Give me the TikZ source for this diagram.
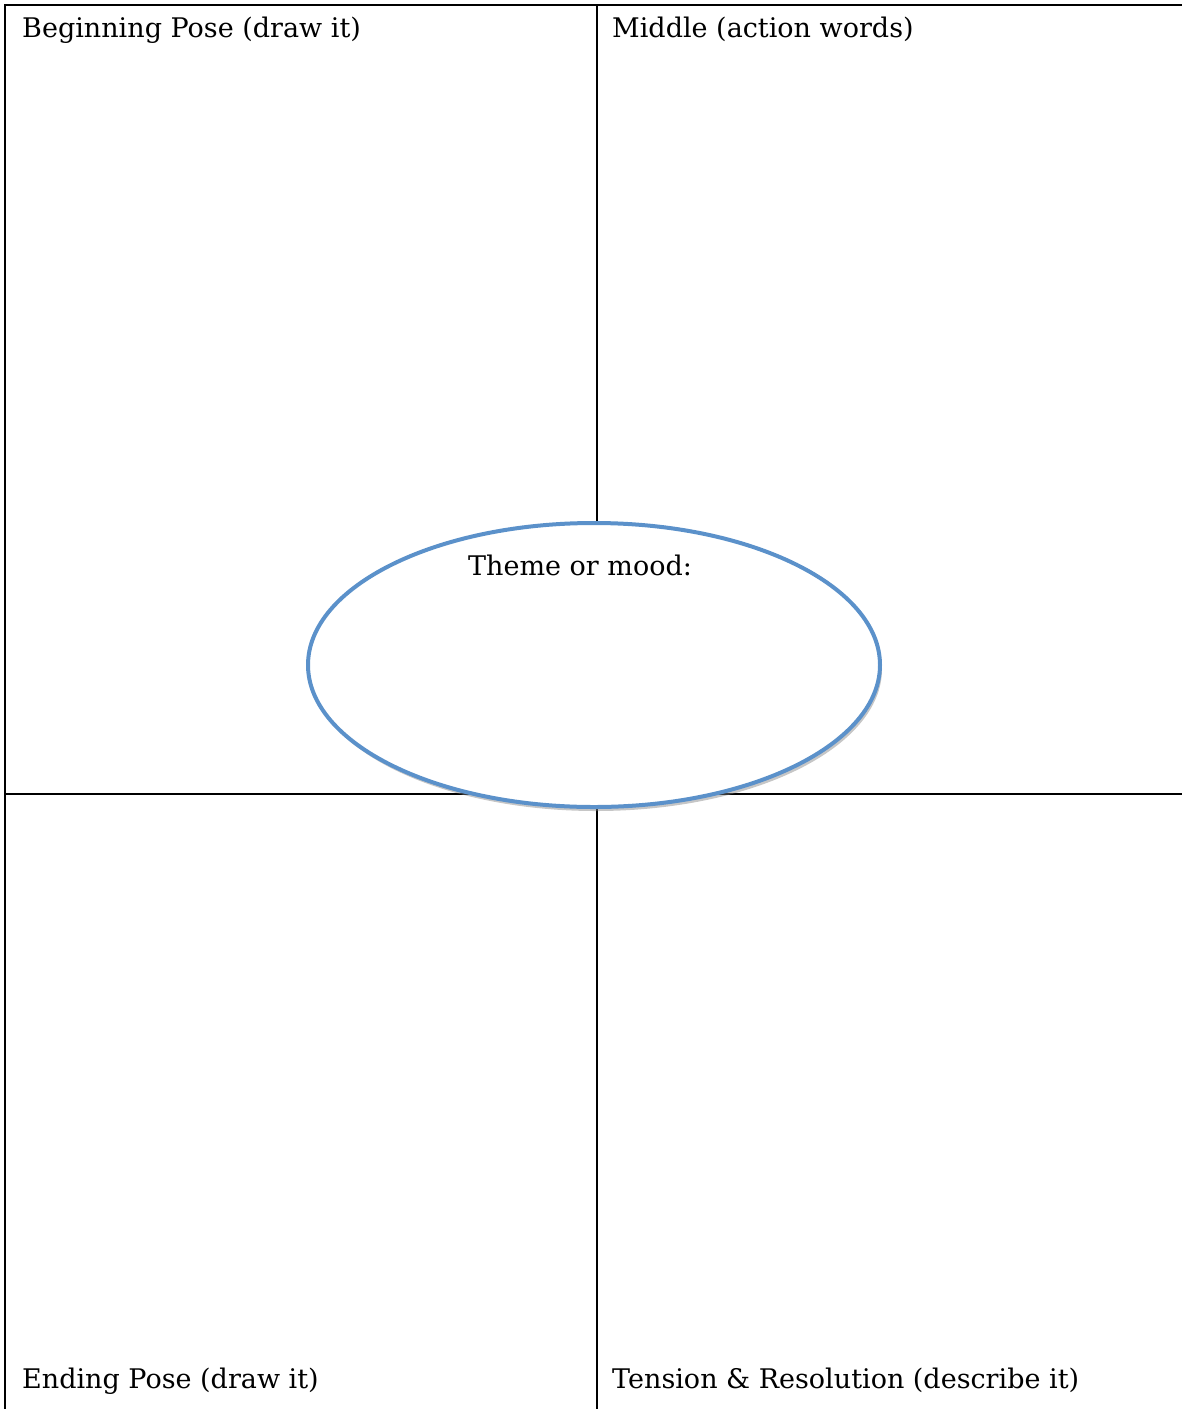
\documentclass[tikz,border=0pt]{standalone}
\usepackage{fontspec}
\setmainfont{DejaVu Serif}
\usetikzlibrary{shapes.geometric,shadows}
\definecolor{moodblue}{RGB}{91,145,202}

\begin{document}
\begin{tikzpicture}[x=1pt,y=-1pt,font=\fontsize{27}{31}\selectfont]
    \useasboundingbox (0,0) rectangle (1182,1409);
    % corner coordinates of the grid
    \coordinate (topleft) at (5,5);
    \coordinate (topright) at (1182,5);
    \coordinate (bottomleft) at (5,1409);
    \coordinate (midtop) at (597,5);
    \coordinate (midbottom) at (597,1409);
    \coordinate (midleft) at (5,794);
    \coordinate (midright) at (1182,794);
    \draw[line width=2.2pt] (bottomleft)--(topleft)--(topright);
    \draw[line width=2.2pt] (midtop)--(midbottom);
    \draw[line width=2.2pt] (midleft)--(midright);
    % the theme ellipse in the middle
    \node[ellipse,draw=moodblue,line width=4pt,fill=white,
      minimum width=572pt,minimum height=284pt,inner sep=0pt,
      drop shadow={shadow xshift=2pt,shadow yshift=-4pt,opacity=.45}]
      (theme) at (594,665) {};
    \node[anchor=base west,inner sep=0pt] (mood) at (468,575) {Theme or mood:};
    % the four quarters
    \node[anchor=base west,inner sep=0pt] (begin) at (22,37) {Beginning Pose (draw it)};
    \node[anchor=base west,inner sep=0pt] (middle) at (612,37) {Middle (action words)};
    \node[anchor=base west,inner sep=0pt] (ending) at (22,1388) {Ending Pose (draw it)};
    \node[anchor=base west,inner sep=0pt] (tension) at (612,1388) {Tension \& Resolution (describe it)};
  \end{tikzpicture}
\end{document}
